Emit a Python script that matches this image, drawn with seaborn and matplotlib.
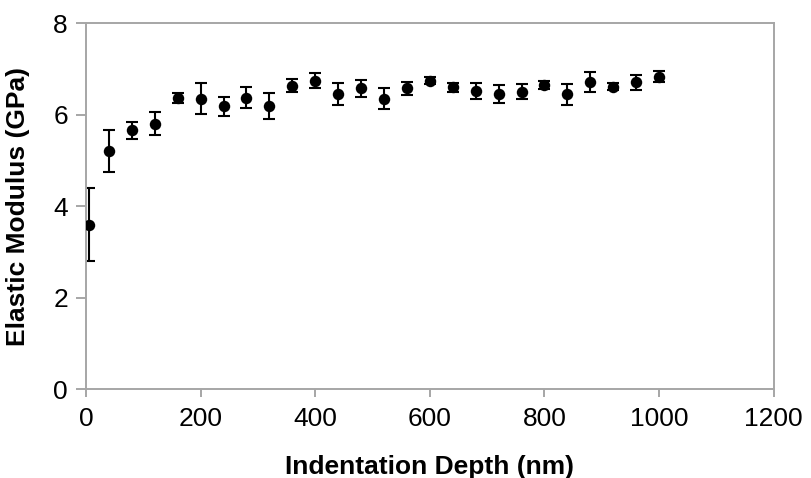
import matplotlib
matplotlib.use("Agg")
import matplotlib.pyplot as plt
import seaborn as sns
import numpy as np
import pandas as pd

# indentation depth (nm), modulus (GPa) and its error
depth = [5, 40, 80, 120, 160, 200, 240, 280, 320, 360, 400, 440, 480,
         520, 560, 600, 640, 680, 720, 760, 800, 840, 880, 920, 960, 1000]
modulus = [3.60, 5.21, 5.66, 5.81, 6.37, 6.35, 6.19, 6.37, 6.19, 6.64, 6.75, 6.45, 6.58,
           6.35, 6.58, 6.75, 6.60, 6.52, 6.46, 6.51, 6.65, 6.45, 6.71, 6.62, 6.71, 6.83]
err = [0.79, 0.46, 0.18, 0.26, 0.11, 0.34, 0.21, 0.23, 0.29, 0.14, 0.16, 0.24, 0.19,
       0.23, 0.14, 0.08, 0.10, 0.18, 0.20, 0.17, 0.09, 0.23, 0.22, 0.08, 0.16, 0.12]

df = pd.DataFrame({"depth": depth, "modulus": modulus, "err": err})

sns.set_style("ticks")
plt.rcParams['font.family'] = ['Liberation Sans', 'DejaVu Sans']

fig = plt.figure(figsize=(8.11, 4.78), dpi=100)
ax = fig.add_axes([0.106, 0.186, 0.848, 0.765])

ax.errorbar(df["depth"], df["modulus"], yerr=df["err"], fmt='none',
            ecolor='black', elinewidth=1.5, capsize=4.5, capthick=1.5, zorder=2)
sns.scatterplot(data=df, x="depth", y="modulus", color='black', s=68,
                edgecolor='black', linewidth=0, ax=ax, zorder=3)

ax.set_xlim(0, 1200)
ax.set_ylim(0, 8)
ax.set_xticks(np.arange(0, 1201, 200))
ax.set_yticks(np.arange(0, 9, 2))

gray = '#a6a6a6'
for side in ['left', 'bottom', 'top', 'right']:
    ax.spines[side].set_visible(True)
    ax.spines[side].set_color(gray)
    ax.spines[side].set_linewidth(1.4)
ax.tick_params(axis='both', colors=gray, labelcolor='black', labelsize=19,
               width=1.4, direction='out')
ax.tick_params(axis='x', length=6, pad=7)
ax.tick_params(axis='y', length=7, pad=6)

ax.set_xlabel("Indentation Depth (nm)", fontsize=19, fontweight='bold',
              color='black', labelpad=17)
ax.set_ylabel("Elastic Modulus (GPa)", fontsize=19, fontweight='bold',
              color='black', labelpad=17)

plt.savefig("out.png", dpi=100)
plt.close()
